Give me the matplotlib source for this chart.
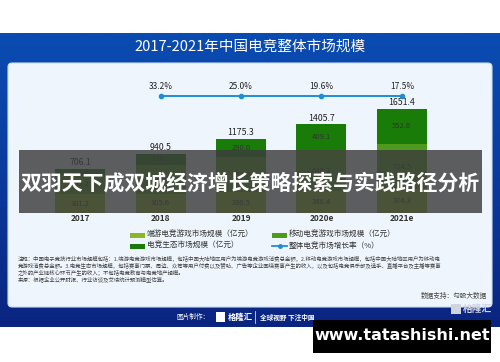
import matplotlib.pyplot as plt
import numpy as np
from matplotlib.patches import Rectangle, FancyBboxPatch
from matplotlib.colors import LinearSegmentedColormap

plt.rcParams["font.family"] = ["Noto Sans CJK SC", "DejaVu Sans"]

# ------------------------------------------------------------------
# data
# ------------------------------------------------------------------
years = ["2017", "2018", "2019", "2020e", "2021e"]
pc_games = [301.2, 305.6, 330.5, 348.4, 374.3]      # 端游电竞游戏市场规模
mobile_games = [303.2, 456.8, 554.8, 648.1, 724.5]  # 移动电竞游戏市场规模
ecosystem = [101.7, 178.1, 290.0, 409.1, 552.6]     # 电竞生态市场规模
totals = [706.1, 940.5, 1175.3, 1405.7, 1651.4]
growth_years = ["2018", "2019", "2020e", "2021e"]
growth = [33.2, 25.0, 19.6, 17.5]

c_pc = "#8db52a"
c_mob = "#4f9a1c"
c_eco = "#1a7c08"
c_line = "#1f8fd2"

fig = plt.figure(figsize=(5, 3.62), dpi=100)
fig.patch.set_facecolor("white")

# background in pixel coords
bg = fig.add_axes([0, 0, 1, 1])
bg.set_xlim(0, 500)
bg.set_ylim(362, 0)
bg.axis("off")

cmap = LinearSegmentedColormap.from_list("hdr", ["#0a4cb2", "#0a3a9c", "#0b2580"])
grad = np.linspace(0, 1, 100).reshape(-1, 1)
bg.imshow(grad, cmap=cmap, extent=[0, 500, 327, 33], aspect="auto", zorder=0)
bg.add_patch(FancyBboxPatch((8, 63), 484, 244, boxstyle="round,pad=0,rounding_size=4",
                            fc="#eef5fc", ec="#c9dcf2", lw=0.8, zorder=1))
bg.text(250, 47, "2017-2021年中国电竞整体市场规模", color="white", fontsize=10.5,
        ha="center", va="center", zorder=2)

# legend
leg_items = [(130, 235, "bar", c_pc, "端游电竞游戏市场规模（亿元）"),
             (272, 235, "bar", c_mob, "移动电竞游戏市场规模（亿元）"),
             (130, 246, "bar", c_eco, "电竞生态市场规模（亿元）"),
             (272, 246, "line", c_line, "整体电竞市场增长率（%）")]
for x0, y0, kind, col, lab in leg_items:
    if kind == "bar":
        bg.add_patch(Rectangle((x0, y0 - 2.5), 15, 5, fc=col, ec="none", zorder=2))
    else:
        bg.plot([x0, x0 + 15], [y0, y0], color=col, lw=1.3, zorder=2)
        bg.plot([x0 + 7.5], [y0], "o", color=col, ms=2.5, zorder=2)
    bg.text(x0 + 17, y0, lab, fontsize=5.5, color="#333333", va="center", zorder=2)

note = ("注释：中国电子竞技行业市场规模包括：1.端游电竞游戏市场规模，包括中国大陆地区用户为端游电竞游戏消费总金额，2.移动电竞游戏市场规模，包括中国大陆地区用户为移动电\n"
        "竞游戏消费总金额。3.电竞生态市场规模，包括赛事门票、周边、众筹等用户付费以及赞助、广告等企业围绕赛事产生的收入，以及包括电竞俱乐部及选手、直播平台及主播等赛事\n"
        "之外的产业链核心环节产生的收入；不包括电竞教育与电竞地产规模。\n"
        "来源：根据企业公开财报、行业访谈及艾瑞统计预测模型估算。")
bg.text(18, 255, note, fontsize=3.9, color="#444444", va="top", ha="left",
        linespacing=1.25, zorder=2)
bg.text(487, 296, "数据支持：勾股大数据", fontsize=4.8, color="#444444", ha="right",
        va="center", zorder=2)

# footer
bg.text(210, 317, "图片制作：", fontsize=4.8, color="white", ha="right", va="center", zorder=2)
bg.add_patch(Rectangle((216, 312), 9, 10, fc="white", ec="none", zorder=2))
bg.text(228, 317, "格隆汇", fontsize=6, color="white", ha="left", va="center",
        fontweight="bold", zorder=2)
bg.plot([255, 255], [311, 323], color="white", lw=0.5, zorder=2)
bg.text(260, 317, "全球视野 下注中国", fontsize=4.8, color="white", ha="left",
        va="center", fontweight="bold", zorder=2)
bg.add_patch(Rectangle((451, 304), 10, 10, fc="#d0d4e0", ec="none", zorder=2))
bg.text(463, 309, "格隆汇", fontsize=7, color="#d0d4e0", ha="left", va="center",
        fontweight="bold", zorder=2)

# bar chart
ax = fig.add_axes([40 / 500, 149 / 362, 402 / 500, 138 / 362])
ax.patch.set_alpha(0)
x = np.arange(len(years))
w = 0.62
pc = np.array(pc_games)
mob = np.array(mobile_games)
eco = np.array(ecosystem)
ax.bar(x, pc, w, color=c_pc)
ax.bar(x, mob, w, bottom=pc, color=c_mob)
ax.bar(x, eco, w, bottom=pc + mob, color=c_eco)
for i in range(len(years)):
    ax.text(x[i], pc[i] / 2, f"{pc[i]:.1f}", ha="center", va="center", fontsize=5.5, color="#333333")
    ax.text(x[i], pc[i] + mob[i] / 2, f"{mob[i]:.1f}", ha="center", va="center", fontsize=5.5, color="#333333")
    ax.text(x[i], pc[i] + mob[i] + eco[i] / 2, f"{eco[i]:.1f}", ha="center", va="center",
            fontsize=5.5, color="#333333")
    ax.text(x[i], totals[i] + 30, f"{totals[i]:.1f}", ha="center", va="bottom", fontsize=6.3,
            color="#222222")
    ax.text(x[i], -95, years[i], ha="center", va="center", fontsize=6, color="#333333",
            fontweight="bold")
ax.axhline(0, color="#c8cdd4", lw=0.8)
ax.set_xlim(-0.5, len(years) - 0.5)
ax.set_ylim(0, 2190)
ax.axis("off")

# growth line (drawn flat, as in the source chart)
ax2 = ax.twinx()
ax2.set_ylim(0, 1)
ax2.axis("off")
gx = np.array([years.index(g) for g in growth_years])
level = np.full(len(growth), 0.848)
ax2.plot(gx, level, color=c_line, lw=1.4, marker="o", ms=3)
for xi, g in zip(gx, growth):
    ax2.text(xi, 0.885, f"{g:.1f}%", ha="center", va="bottom", fontsize=6, color="#222222")

# overlays: banner + watermark
ov = fig.add_axes([0, 0, 1, 1], zorder=5)
ov.set_xlim(0, 500)
ov.set_ylim(362, 0)
ov.axis("off")
ov.patch.set_alpha(0)
ov.add_patch(Rectangle((19, 150), 463, 63, fc="#3c3c3c", alpha=0.82, ec="none"))
ov.text(250, 183, "双羽天下成双城经济增长策略探索与实践路径分析", color="white",
        fontsize=15, fontweight="bold", ha="center", va="center")
ov.add_patch(Rectangle((313, 320), 178, 33, fc="black", ec="none"))
ov.text(402, 336, "www.tatashishi.net", color="white", fontsize=11.5, fontweight="bold",
        ha="center", va="center", family="DejaVu Sans")

fig.savefig("out.png", dpi=100)
